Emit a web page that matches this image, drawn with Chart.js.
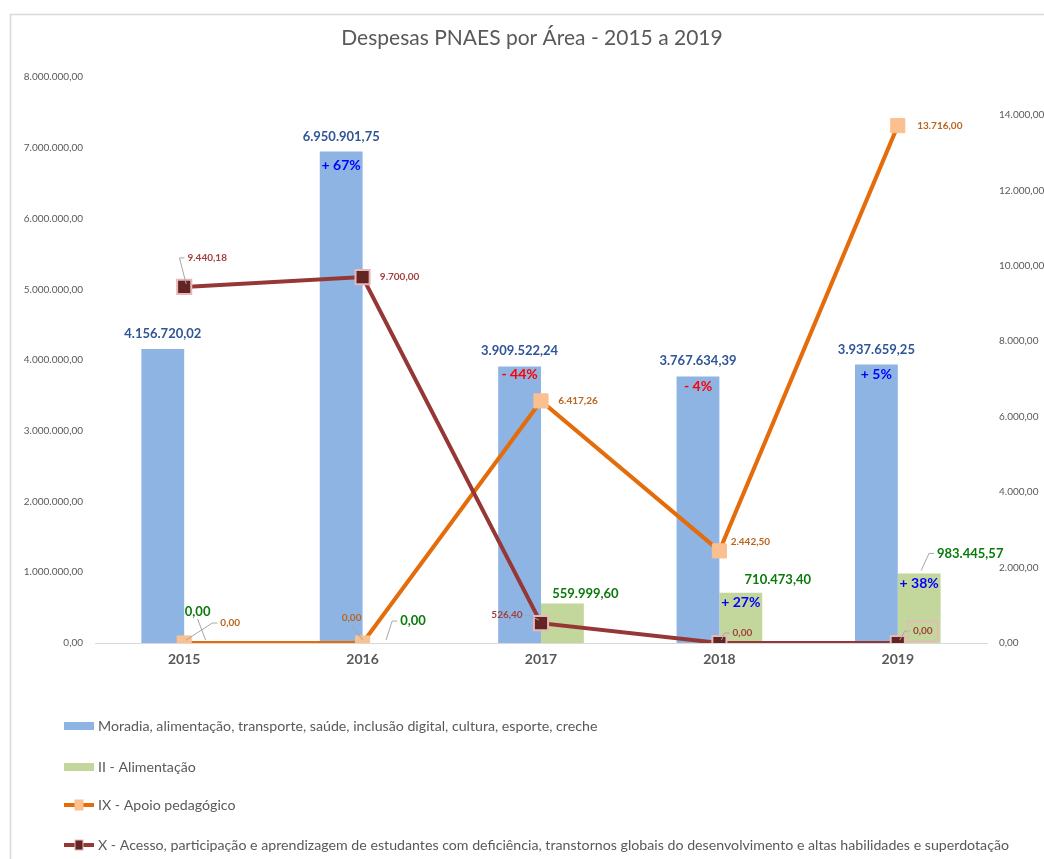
<!DOCTYPE html>
<html>
<head>
<meta charset="utf-8">
<script src="https://cdn.jsdelivr.net/npm/chart.js@4.4.1/dist/chart.umd.min.js"></script>
<style>
  html, body { margin: 0; padding: 0; background: #fff; }
  #wrap { width: 1044px; height: 859px; }
</style>
</head>
<body>
<div id="wrap"><canvas id="pnaesChart" width="1044" height="859"></canvas></div>
<script>
const anos = ['2015', '2016', '2017', '2018', '2019'];
const moradia = [4156720.02, 6950901.75, 3909522.24, 3767634.39, 3937659.25];
const alimentacao = [0, 0, 559999.60, 710473.40, 983445.57];
const apoioPedagogico = [0, 0, 6417.26, 2442.50, 13716.00];
const acesso = [9440.18, 9700.00, 526.40, 0, 0];
const moradiaVar = ['', '+ 67%', '- 44%', '- 4%', '+ 5%'];
const alimentacaoVar = ['', '', '', '+ 27%', '+ 38%'];
const ticksEsq = [0, 1000000, 2000000, 3000000, 4000000, 5000000, 6000000, 7000000, 8000000];
const ticksDir = [0, 2000, 4000, 6000, 8000, 10000, 12000, 14000];

const FONT = 'Lato, "Open Sans", sans-serif';
const GRAY = '#595959';

// formato brasileiro: 1.234.567,89
function fmt(v) {
    const parts = Math.abs(v).toFixed(2).split('.');
    const inteiro = parts[0].replace(/\B(?=(\d{3})+(?!\d))/g, '.');
    return (v < 0 ? '-' : '') + inteiro + ',' + parts[1];
}

// rotulos: deslocamento do centro do texto em relacao ao ponto [dx, dy, linha guia, caixa]
const labelStyle = [
    { color: '#2F5597', size: 13, offs: [[0, -15], [0, -15], [0, -16], [0, -16], [0, -15]] },
    { color: '#0B7A0B', size: 13, offs: [[-8, -31, 1], [29, -22, 1], [23, -10], [37, -13], [51, -20, 1]] },
    { color: '#B8651B', size: 10, offs: [[46, -20, 1], [-11, -25, 1], [37, 0], [31, -9], [42, 0]] },
    { color: '#A0413F', size: 10, offs: [[23, -29, 1], [37, 0], [-34, -8, 1], [23, -10, 1], [25, -12, 1, 1]] }
];
const varOffs = [[0, 14], [0, 14], [0, 8], [0, 10], [0, 10]];
const varOffsG = [[0, 0], [0, 0], [0, 0], [0, 10], [0, 10]];

const labelsPlugin = {
    id: 'rotulos',
    afterDatasetsDraw(chart) {
        const ctx = chart.ctx;
        ctx.save();
        ctx.textBaseline = 'middle';
        ctx.textAlign = 'center';
        chart.data.datasets.forEach((ds, di) => {
            const meta = chart.getDatasetMeta(di);
            const st = labelStyle[di];
            meta.data.forEach((el, i) => {
                const o = st.offs[i];
                const txt = fmt(ds.data[i]);
                ctx.font = 'bold ' + st.size + 'px ' + FONT;
                const w = ctx.measureText(txt).width;
                const lx = el.x + o[0], ly = el.y + o[1];
                if (o[2]) {
                    ctx.strokeStyle = '#A6A6A6';
                    ctx.lineWidth = 1;
                    ctx.beginPath();
                    if (lx - w / 2 > el.x + 2) {
                        ctx.moveTo(el.x + 2, el.y - 3);
                        ctx.lineTo(lx - w / 2 - 8, ly);
                        ctx.lineTo(lx - w / 2 - 3, ly);
                    } else if (lx + w / 2 < el.x - 2) {
                        ctx.moveTo(el.x - 2, el.y - 3);
                        ctx.lineTo(lx + w / 2 + 6, ly);
                        ctx.lineTo(lx + w / 2 + 2, ly);
                    } else {
                        ctx.moveTo(el.x, el.y - 3);
                        ctx.lineTo(lx, ly + 7);
                    }
                    ctx.stroke();
                }
                if (o[3]) {
                    ctx.strokeStyle = '#E6B9B8';
                    ctx.lineWidth = 1.5;
                    ctx.strokeRect(lx - w / 2 - 5, ly - 10, w + 10, 20);
                }
                ctx.fillStyle = st.color;
                ctx.fillText(txt, lx, ly);
            });
        });
        // variacao percentual dentro das barras
        ctx.font = 'bold 14px ' + FONT;
        [[0, moradiaVar, varOffs], [1, alimentacaoVar, varOffsG]].forEach(([di, arr, offs]) => {
            const meta = chart.getDatasetMeta(di);
            meta.data.forEach((el, i) => {
                const t = arr[i];
                if (!t) return;
                ctx.fillStyle = t.charAt(0) === '-' ? '#FF0000' : '#0000FF';
                ctx.fillText(t, el.x + offs[i][0], el.y + offs[i][1]);
            });
        });
        ctx.restore();
    },
    afterDraw(chart) {
        const ctx = chart.ctx;
        ctx.save();
        // borda da area do grafico
        ctx.strokeStyle = '#D9D9D9';
        ctx.lineWidth = 1.5;
        ctx.beginPath();
        ctx.moveTo(10.5, 860);
        ctx.lineTo(10.5, 14.5);
        ctx.lineTo(1044, 14.5);
        ctx.stroke();
        // legenda vertical
        const rows = [726, 767, 805, 845];
        ctx.font = '14.2px ' + FONT;
        ctx.textBaseline = 'middle';
        ctx.textAlign = 'left';
        chart.data.datasets.forEach((ds, i) => {
            const y = rows[i];
            if (ds.type === 'bar') {
                ctx.fillStyle = ds.backgroundColor;
                ctx.fillRect(64, y - 4, 30, 8);
            } else {
                ctx.strokeStyle = ds.borderColor;
                ctx.lineWidth = 4;
                ctx.beginPath();
                ctx.moveTo(64, y);
                ctx.lineTo(94, y);
                ctx.stroke();
                ctx.fillStyle = ds.pointBackgroundColor;
                ctx.fillRect(75, y - 5, 8, 10);
                ctx.strokeStyle = ds.pointBorderColor;
                ctx.lineWidth = 1;
                ctx.strokeRect(75, y - 5, 8, 10);
            }
            ctx.fillStyle = GRAY;
            ctx.fillText(ds.label, 98, y);
        });
        ctx.restore();
    }
};

const ctx = document.getElementById('pnaesChart').getContext('2d');
const chart = new Chart(ctx, {
    type: 'bar',
    data: {
        labels: anos,
        datasets: [
            {
                type: 'bar',
                label: 'Moradia, alimentação, transporte, saúde, inclusão digital, cultura, esporte, creche',
                data: moradia,
                backgroundColor: '#8EB4E3',
                yAxisID: 'y',
                order: 2
            },
            {
                type: 'bar',
                label: 'II - Alimentação',
                data: alimentacao,
                backgroundColor: '#C3D69B',
                yAxisID: 'y',
                order: 2
            },
            {
                type: 'line',
                label: 'IX - Apoio pedagógico',
                data: apoioPedagogico,
                borderColor: '#E46C0A',
                borderWidth: 4,
                pointStyle: 'rect',
                pointRadius: 10,
                pointBackgroundColor: '#FAC090',
                pointBorderColor: '#FAC090',
                pointBorderWidth: 1,
                yAxisID: 'y1',
                order: 1
            },
            {
                type: 'line',
                label: 'X - Acesso, participação e aprendizagem de estudantes com deficiência, transtornos globais do desenvolvimento e altas habilidades e superdotação',
                data: acesso,
                borderColor: '#953735',
                borderWidth: 4,
                pointStyle: 'rect',
                pointRadius: 10,
                pointBackgroundColor: '#632523',
                pointBorderColor: '#E6B9B8',
                pointBorderWidth: 2,
                yAxisID: 'y1',
                order: 0
            }
        ]
    },
    options: {
        responsive: false,
        animation: false,
        categoryPercentage: 0.48,
        barPercentage: 1,
        layout: { padding: { left: 20, right: 0, top: 0, bottom: 186 } },
        plugins: {
            legend: { display: false },
            tooltip: { enabled: false },
            title: {
                display: true,
                text: 'Despesas PNAES por Área - 2015 a 2019',
                color: GRAY,
                font: { family: FONT, size: 21, weight: 'normal' },
                padding: { top: 26, bottom: 26 }
            }
        },
        scales: {
            x: {
                grid: { display: false, drawTicks: false },
                border: { color: '#D9D9D9', width: 1 },
                ticks: { color: GRAY, font: { family: FONT, size: 14, weight: 'bold' }, padding: 8 },
                afterFit(s) { s.height = 30; }
            },
            y: {
                position: 'left',
                min: 0,
                max: 8000000,
                grid: { display: false, drawTicks: false },
                border: { display: false },
                afterBuildTicks(s) { s.ticks = ticksEsq.map(v => ({ value: v })); },
                ticks: {
                    autoSkip: false,
                    color: GRAY,
                    padding: 12,
                    font: { family: FONT, size: 10 },
                    callback: v => fmt(v)
                },
                afterFit(s) { s.width = 75; }
            },
            y1: {
                position: 'right',
                min: 0,
                max: 15000,
                grid: { display: false, drawTicks: false },
                border: { display: false },
                afterBuildTicks(s) { s.ticks = ticksDir.map(v => ({ value: v })); },
                ticks: {
                    autoSkip: false,
                    color: GRAY,
                    padding: 12,
                    font: { family: FONT, size: 10 },
                    callback: v => fmt(v)
                },
                afterFit(s) { s.width = 57; }
            }
        }
    },
    plugins: [labelsPlugin]
});
</script>
</body>
</html>
